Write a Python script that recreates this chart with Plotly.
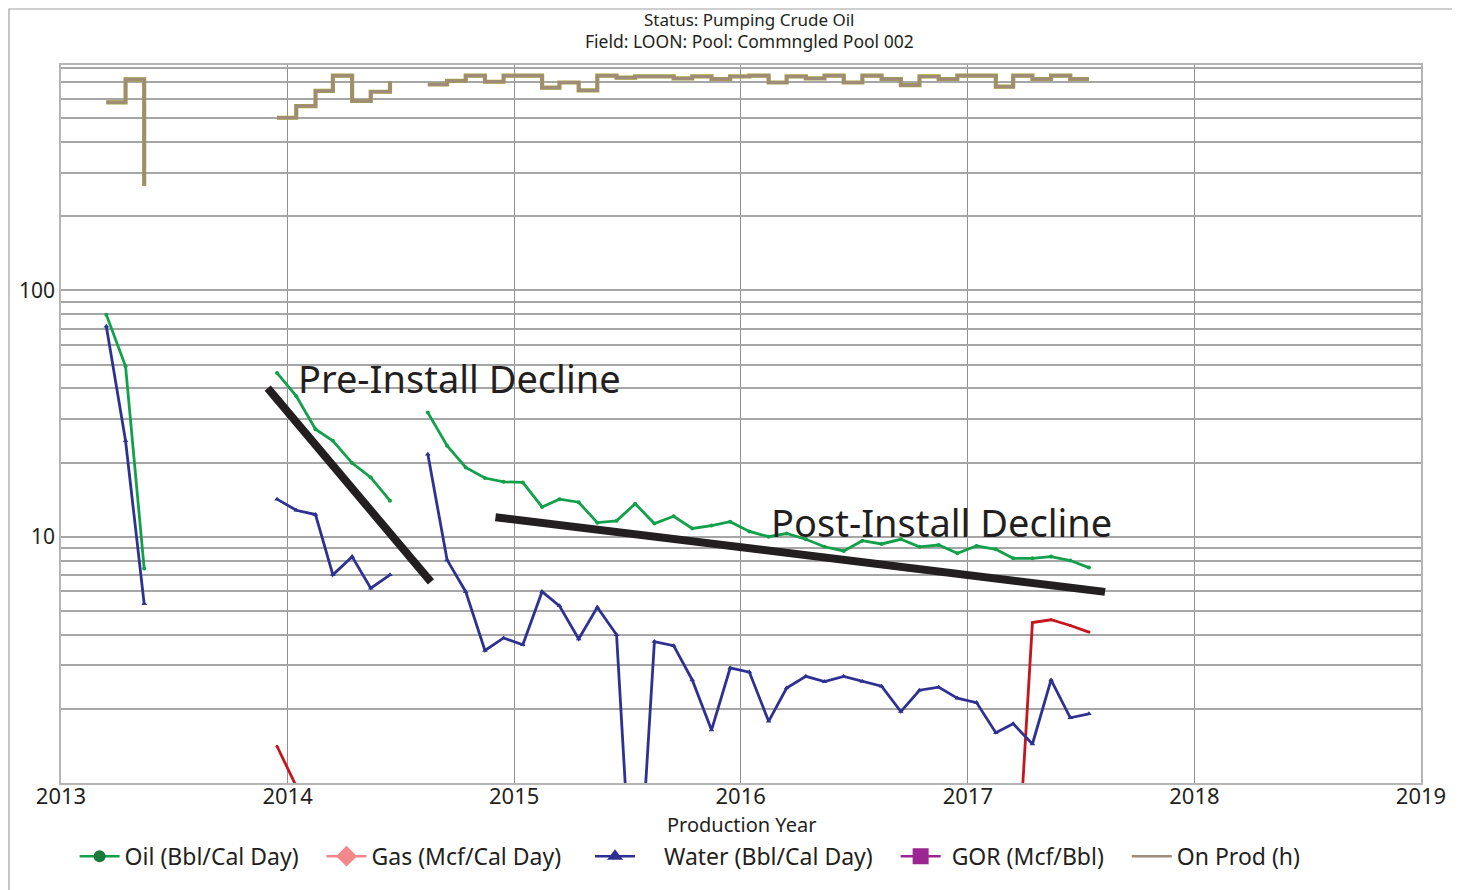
import math
import pandas as pd
import plotly.graph_objects as go

# ---------------- data (monthly, mid-month) ----------------
months = pd.date_range("2013-03-01", "2017-07-01", freq="MS").strftime("%Y-%m").tolist()

N = None
oil = [79.7, 49.2, 7.42, N, N, N, N, N, N,
       46.2, 37.2, 27.3, 24.5, 19.9, 17.4, 14.0, N,
       31.9, 23.4, 19.1, 17.3, 16.7,
       16.6, 13.2, 14.2, 13.8, 11.4, 11.6, 13.6, 11.3, 12.1, 10.8, 11.1, 11.5,
       10.5, 10.0, 10.3, 9.76, 9.10, 8.75, 9.63, 9.34, 9.76, 9.10, 9.25, 8.57,
       9.17, 8.89, 8.17, 8.17, 8.30, 8.00, 7.49]

water = [71.5, 24.5, 5.34, N, N, N, N, N, N,
         14.2, 12.8, 12.3, 7.0, 8.3, 6.18, 7.0, N,
         21.6, 8.05, 5.98, 3.45, 3.88,
         3.64, 5.98, 5.24, 3.84, 5.17, 4.0, 0.2, 3.75, 3.61, 2.62, 1.64, 2.93,
         2.82, 1.78, 2.43, 2.71, 2.58, 2.71, 2.58, 2.47, 1.95, 2.38, 2.45, 2.21,
         2.12, 1.60, 1.74, 1.44, 2.62, 1.84, 1.91]

gor = [N, N, N, N, N, N, N, N, N,
       1.41, 0.97, N, N, N, N, N, N,
       N, N, N, N, N,
       N, N, N, N, N, N, N, N, N, N, N, N,
       N, N, N, N, N, N, N, N, N, N, N, N,
       N, N, 0.22, 4.48, 4.60, 4.36, 4.10]

on_prod = [580, 719, 266, N, N, N, N, N, N,
           502, 560, 645, 744, 587, 640, 706, N,
           685, 708, 744, 703, 744,
           744, 665, 698, 648, 744, 730, 739, 739, 725, 739, 721, 739,
           744, 698, 739, 725, 744, 698, 744, 721, 681, 739, 721, 744,
           744, 671, 744, 721, 744, 721, 721]

# decline trend lines (drawn on the chart as annotations)
pre_x = ["2013-11-30", "2014-08-20"]
pre_y = [40.1, 6.55]
post_x = ["2014-12-02", "2017-08-10"]
post_y = [12.0, 5.97]

years = [2013, 2014, 2015, 2016, 2017, 2018, 2019]
y_grid = [m * 10 ** e for e in range(0, 3) for m in range(1, 10)]
y_labels = {10: "10", 100: "100"}

x = (pd.to_datetime(months) + pd.Timedelta(days=14)).tolist()

# ---------------- figure ----------------
FONT = "Noto Sans"
TXT = "#231f20"
NB = "\u00a0"
fig = go.Figure()

# On Prod (two overlapping step lines)
fig.add_trace(go.Scatter(x=x, y=on_prod, mode="lines", line=dict(color="#a3a23a", width=4.2, shape="hv"),
                         showlegend=False, hoverinfo="skip"))
fig.add_trace(go.Scatter(x=x, y=on_prod, mode="lines", line=dict(color="#a08b7b", width=3, shape="hv"),
                         showlegend=False, name="On Prod (h)"))

fig.add_trace(go.Scatter(x=x, y=gor, mode="lines+markers", line=dict(color="#c4161c", width=2.8),
                         marker=dict(size=3, color="#c4161c"), showlegend=False, name="GOR"))
fig.add_trace(go.Scatter(x=x, y=water, mode="lines+markers", line=dict(color="#2e3192", width=2.8),
                         marker=dict(symbol="triangle-up", size=5, color="#2e3192"), showlegend=False,
                         name="Water"))
fig.add_trace(go.Scatter(x=x, y=oil, mode="lines+markers", line=dict(color="#12a04a", width=2.8),
                         marker=dict(symbol="circle", size=4, color="#12a04a"), showlegend=False,
                         name="Oil"))

# trend lines
fig.add_trace(go.Scatter(x=pre_x, y=pre_y, mode="lines", line=dict(color="#231f20", width=8),
                         showlegend=False, hoverinfo="skip"))
fig.add_trace(go.Scatter(x=post_x, y=post_y, mode="lines", line=dict(color="#231f20", width=8),
                         showlegend=False, hoverinfo="skip"))

# legend-only entries
leg = [
    ("Oil (Bbl/Cal Day)" + NB * 3, "#12a04a", "circle", "#1a7a3c", 12),
    ("Gas (Mcf/Cal Day)" + NB * 4, "#f4878c", "diamond", "#f4878c", 16),
    (NB * 4 + "Water (Bbl/Cal Day)" + NB * 3, "#2e3192", "triangle-up", "#2e3192", 14),
    (NB + "GOR (Mcf/Bbl)" + NB * 3, "#9b2591", "square", "#9b2591", 16),
]
for name, lc, sym, mc, sz in leg:
    fig.add_trace(go.Scatter(x=[None], y=[None], mode="lines+markers", name=name,
                             line=dict(color=lc, width=2.5),
                             marker=dict(symbol=sym, color=mc, size=sz)))
fig.add_trace(go.Scatter(x=[None], y=[None], mode="lines", name="On Prod (h)",
                         line=dict(color="#a08b7b", width=2.5)))

# page has an 8px body margin: plot area target is x 61..1421, y 65..783
fig.update_layout(
    width=1452, height=882,
    margin=dict(l=53, r=39, t=57, b=107),
    paper_bgcolor="white", plot_bgcolor="white",
    font=dict(family=FONT, color=TXT),
    showlegend=True,
    legend=dict(orientation="h", x=0.01, xanchor="left", y=-0.102, yanchor="middle",
                font=dict(size=23, family=FONT, color=TXT), itemwidth=40, tracegroupgap=0,
                bgcolor="rgba(0,0,0,0)"),
    xaxis=dict(type="date", range=["2013-01-01", "2019-01-01"],
               tickvals=[f"{yr}-01-01" for yr in years], ticktext=[str(yr) for yr in years],
               showgrid=True, gridcolor="#8f8f8f", gridwidth=1,
               showline=True, linecolor="#b5b5b5", linewidth=1.5, mirror=True,
               ticks="", ticklabelstandoff=-7,
               tickfont=dict(size=22, family=FONT, color=TXT), zeroline=False),
    yaxis=dict(type="log", range=[0, math.log10(822)],
               tickvals=y_grid, ticktext=[y_labels.get(v, "") for v in y_grid],
               showgrid=True, gridcolor="#a6a6a6", gridwidth=1.5,
               showline=True, linecolor="#b5b5b5", linewidth=1.5, mirror=True,
               ticks="", tickfont=dict(size=21, family=FONT, color=TXT), zeroline=False),
)

def px_x(p):
    return (p - 61) / 1360

def px_y(p):
    return (783 - p) / 718

fig.add_annotation(text="Status: Pumping Crude Oil", xref="paper", yref="paper",
                   x=px_x(749), y=px_y(19), xanchor="center", yanchor="middle", showarrow=False,
                   font=dict(size=17, family=FONT, color=TXT))
fig.add_annotation(text="Field: LOON: Pool: Commngled Pool 002", xref="paper", yref="paper",
                   x=px_x(749), y=px_y(41), xanchor="center", yanchor="middle", showarrow=False,
                   font=dict(size=17.5, family=FONT, color=TXT))
fig.add_annotation(text="Production Year", xref="paper", yref="paper",
                   x=px_x(741), y=px_y(824), xanchor="center", yanchor="middle",
                   showarrow=False, font=dict(size=20, family=FONT, color=TXT))
fig.add_annotation(text="Pre-Install Decline", xref="paper", yref="paper",
                   x=px_x(296), y=px_y(378), xanchor="left", yanchor="middle",
                   showarrow=False, font=dict(size=38, family=FONT, color=TXT))
fig.add_annotation(text="Post-Install Decline", xref="paper", yref="paper",
                   x=px_x(769), y=px_y(522), xanchor="left", yanchor="middle",
                   showarrow=False, font=dict(size=38, family=FONT, color=TXT))

# outer frame
fig.add_shape(type="rect", xref="paper", yref="paper",
              x0=px_x(9), x1=px_x(1454.5), y0=px_y(900), y1=px_y(9),
              line=dict(color="#a0a0a0", width=1.2), fillcolor="rgba(0,0,0,0)", layer="below")

fig.write_html("out.html")
